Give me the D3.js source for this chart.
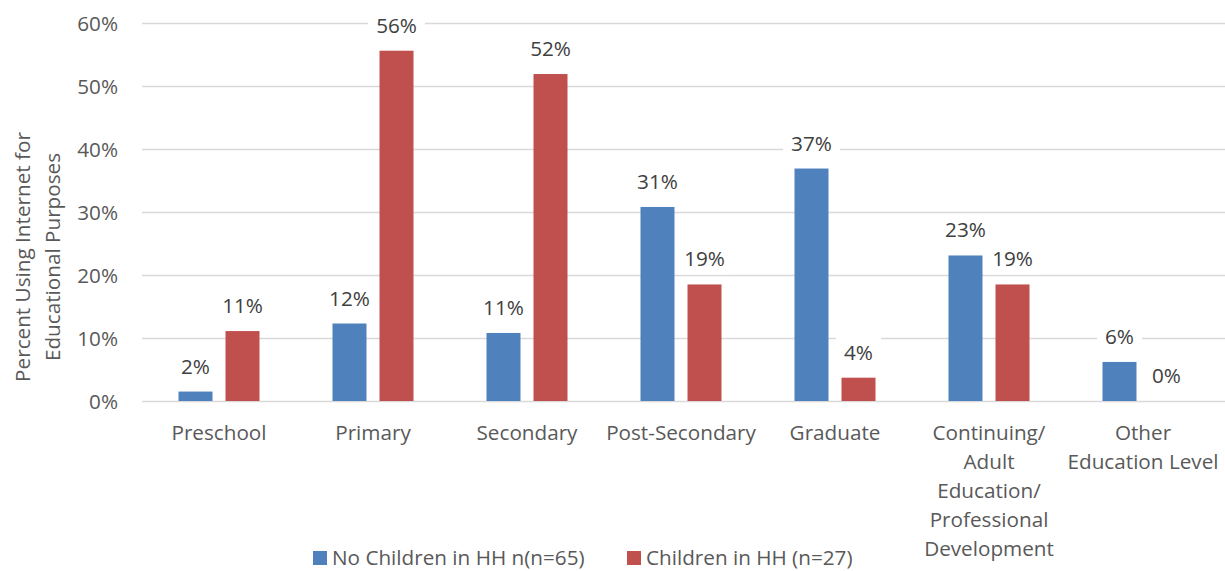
<!DOCTYPE html>
<html><head><meta charset="utf-8">
<script src="https://cdn.jsdelivr.net/npm/d3@7"></script>
<style>body{margin:0;background:#fff;} text{font-family:"Open Sans",sans-serif;}</style>
</head><body>
<svg id="chart" width="1225" height="571"></svg>
<script>
const categories = ["Preschool","Primary","Secondary","Post-Secondary","Graduate","Continuing/\nAdult\nEducation/\nProfessional\nDevelopment","Other\nEducation Level"];
const seriesNames = ["No Children in HH n(n=65)","Children in HH (n=27)"];
const noChildren = [1.5, 12.3, 10.8, 30.8, 36.9, 23.1, 6.2];
const withChildren = [11.1, 55.6, 51.9, 18.5, 3.7, 18.5, 0];
const colors = ["#4f81bd","#c0504d"];
const yTicks = [0,10,20,30,40,50,60];

const svg = d3.select("#chart");
const mLeft = 142, mRight = 1220, mTop = 23, mBottom = 401;
const fs = "20.7px";
const x0 = d3.scaleBand().domain(categories).range([mLeft,mRight]).paddingInner(0.474).paddingOuter(0.237);
const x1 = d3.scaleBand().domain(seriesNames).range([0,x0.bandwidth()]).paddingInner(0.277);
const y = d3.scaleLinear().domain([0,60]).range([mBottom,mTop]);

// gridlines
const yAxis = d3.axisLeft(y).tickValues(yTicks).tickSize(-(1225-mLeft)).tickFormat(d=>d+"%");
const gy = svg.append("g").attr("transform",`translate(${mLeft},0)`).call(yAxis);
gy.select(".domain").remove();
gy.selectAll(".tick line").attr("stroke","#d9d9d9").attr("stroke-width",1.3);
gy.selectAll(".tick text").attr("x",-24).attr("fill","#595959").style("font-size",fs).attr("dy","0.35em");

// y title
const yt = svg.append("text").attr("transform","translate(0,257) rotate(-90)").attr("text-anchor","middle").attr("fill","#595959").style("font-size",fs);
yt.append("tspan").attr("x",0).attr("y",30).text("Percent Using Internet for");
yt.append("tspan").attr("x",0).attr("y",60).text("Educational Purposes");

const data = categories.map((c,i)=>({cat:c, vals:[{s:seriesNames[0],v:noChildren[i],c:colors[0]},{s:seriesNames[1],v:withChildren[i],c:colors[1]}]}));
const groups = svg.append("g").selectAll("g").data(data).join("g").attr("transform",d=>`translate(${x0(d.cat)},0)`);
groups.selectAll("rect").data(d=>d.vals).join("rect")
  .attr("x",d=>x1(d.s)).attr("width",x1.bandwidth())
  .attr("y",d=>y(d.v)).attr("height",d=>mBottom-y(d.v)).attr("fill",d=>d.c);

// labels with white knockout
const lbl = groups.selectAll("g.lbl").data(d=>d.vals).join("g").attr("class","lbl")
  .attr("transform",d=>`translate(${x1(d.s)+x1.bandwidth()/2},${y(d.v)-18})`);
const bg = lbl.append("rect").attr("y",-23).attr("height",31).attr("fill","#fff");
const tx = lbl.append("text").attr("text-anchor","middle").attr("fill","#404040").style("font-size",fs).text(d=>Math.round(d.v)+"%");
lbl.each(function(){
  const g = d3.select(this);
  const w = g.select("text").node().getComputedTextLength() + 16;
  g.select("rect").attr("x",-w/2).attr("width",w);
});

// category labels
svg.append("g").selectAll("text").data(categories).join("text")
  .attr("text-anchor","middle").attr("fill","#595959").style("font-size",fs)
  .attr("transform",d=>`translate(${x0(d)+x0.bandwidth()/2},440)`)
  .each(function(d){
    const lines = d.split("\n");
    d3.select(this).selectAll("tspan").data(lines).join("tspan").attr("x",0).attr("y",(l,i)=>i*29).text(l=>l);
  });

// legend
const legX = [313, 627];
const leg = svg.append("g").selectAll("g").data(seriesNames).join("g").attr("transform",(d,i)=>`translate(${legX[i]},558)`);
leg.append("rect").attr("x",0).attr("y",-7).attr("width",14).attr("height",14).attr("fill",(d,i)=>colors[i]);
leg.append("text").attr("x",19).attr("y",0).attr("dy","0.33em").attr("fill","#595959").style("font-size",fs).text(d=>d);
</script>
</body></html>
